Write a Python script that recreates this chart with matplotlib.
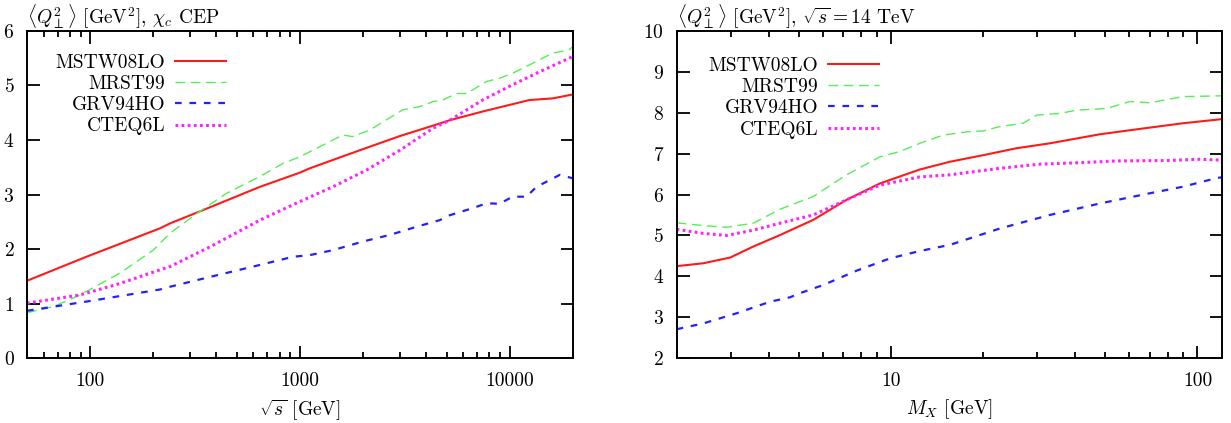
import numpy as np
import matplotlib
matplotlib.use("Agg")
import matplotlib.pyplot as plt
from matplotlib.ticker import LogLocator, FixedLocator, FuncFormatter, NullFormatter

plt.rcParams['font.family'] = ['cmr10', 'DejaVu Serif']
plt.rcParams['mathtext.fontset'] = 'cm'
plt.rcParams['axes.formatter.use_mathtext'] = True

# ---------------- Left panel: <Q^2> vs sqrt(s) ----------------
left_mstw_x = [50, 96, 215, 240, 333, 644, 998, 1114, 1926, 2990, 4630, 5170, 7420, 12400, 16000, 19800]
left_mstw_y = [1.42, 1.86, 2.38, 2.47, 2.69, 3.14, 3.40, 3.48, 3.81, 4.07, 4.30, 4.36, 4.52, 4.73, 4.76, 4.83]

left_mrst_x = [50, 66.7, 89.4, 138.6, 199.7, 240, 333, 446, 644, 830, 998, 1600, 1780, 2150, 3085, 3720,
               4290, 4780, 5580, 6220, 7750, 8940, 10300, 12800, 16000, 19200, 19800]
left_mrst_y = [0.835, 0.945, 1.16, 1.56, 1.98, 2.29, 2.69, 3.02, 3.33, 3.57, 3.69, 4.09, 4.06, 4.18, 4.55, 4.61,
               4.70, 4.73, 4.85, 4.85, 5.07, 5.13, 5.22, 5.40, 5.59, 5.65, 5.70]

left_grv_x = [50, 96.2, 215, 240, 372, 644, 927, 1114, 1433, 2000, 2680, 3600, 4630, 5170, 6650, 7760,
              8940, 10300, 12000, 13400, 17300, 19800]
left_grv_y = [0.87, 1.04, 1.26, 1.31, 1.49, 1.71, 1.86, 1.89, 1.98, 2.14, 2.26, 2.41, 2.53, 2.62, 2.75, 2.84,
              2.83, 2.96, 2.96, 3.14, 3.36, 3.30]

left_cteq_x = [50, 89.4, 138.6, 215, 240, 372, 644, 998, 1433, 2080, 2990, 4290, 5170, 7420, 10300, 13900, 19800]
left_cteq_y = [1.01, 1.16, 1.37, 1.62, 1.68, 2.04, 2.53, 2.87, 3.14, 3.45, 3.81, 4.21, 4.36, 4.73, 5.01, 5.25, 5.52]

# ---------------- Right panel: <Q^2> vs M_X ----------------
right_mstw_x = [2.0, 2.44, 2.99, 3.56, 4.35, 5.58, 7.17, 9.21, 12.43, 15.58, 20.0, 25.7, 33.0,
                48.0, 61.7, 89.7, 120]
right_mstw_y = [4.25, 4.32, 4.46, 4.73, 5.01, 5.38, 5.87, 6.27, 6.61, 6.80, 6.96, 7.13, 7.25,
                7.47, 7.58, 7.74, 7.84]

right_mrst_x = [2.0, 2.44, 2.91, 3.56, 4.35, 5.58, 7.17, 9.21, 10.70, 12.43, 14.81, 17.66, 20.0,
                22.68, 27.0, 29.9, 35.6, 40.3, 50.5, 60.2, 69.9, 89.7, 120]
right_mrst_y = [5.31, 5.24, 5.20, 5.30, 5.64, 5.95, 6.48, 6.92, 7.05, 7.25, 7.45, 7.53, 7.55,
                7.66, 7.74, 7.94, 7.98, 8.06, 8.10, 8.27, 8.24, 8.39, 8.41]

right_grv_x = [2.0, 2.44, 3.14, 4.03, 4.69, 5.05, 6.02, 7.73, 9.93, 12.43, 15.58, 22.68, 33.0, 48.0, 69.9,
               89.7, 115.3, 120]
right_grv_y = [2.71, 2.85, 3.10, 3.38, 3.49, 3.59, 3.79, 4.14, 4.44, 4.62, 4.77, 5.17, 5.50, 5.78, 6.03,
               6.19, 6.40, 6.42]

right_cteq_x = [2.0, 2.44, 2.91, 3.56, 4.35, 5.58, 7.17, 9.21, 12.43, 15.58, 22.68, 30.6, 42.4,
                54.5, 79.2, 101.8, 120]
right_cteq_y = [5.15, 5.05, 5.00, 5.13, 5.30, 5.50, 5.87, 6.23, 6.43, 6.48, 6.64, 6.74, 6.78,
                6.82, 6.83, 6.86, 6.84]

labels = ["MSTW08LO", "MRST99", "GRV94HO", "CTEQ6L"]

styles = [
    dict(color='#ff1a1a', lw=1.5, ls='-'),
    dict(color='#55ee55', lw=1.0, ls=(0, (7, 4))),
    dict(color='#2222ff', lw=1.6, ls=(0, (3, 3.5))),
    dict(color='#ff22ff', lw=2.2, ls=(0, (0.9, 1.1))),
]

fig = plt.figure(figsize=(12.31, 4.23), dpi=100)
axL = fig.add_axes([27/1231, 1-358.3/423, 546/1231, 327.6/423])
axR = fig.add_axes([676.6/1231, 1-358.3/423, 545.1/1231, 327.6/423])

left_data = [(left_mstw_x, left_mstw_y), (left_mrst_x, left_mrst_y),
             (left_grv_x, left_grv_y), (left_cteq_x, left_cteq_y)]
right_data = [(right_mstw_x, right_mstw_y), (right_mrst_x, right_mrst_y),
              (right_grv_x, right_grv_y), (right_cteq_x, right_cteq_y)]

for (x, y), st, lab in zip(left_data, styles, labels):
    axL.plot(x, y, label=lab, **st)
for (x, y), st, lab in zip(right_data, styles, labels):
    axR.plot(x, y, label=lab, **st)

fs = 14

def style_axes(ax):
    ax.set_xscale('log')
    for sp in ax.spines.values():
        sp.set_linewidth(1.4)
    ax.tick_params(which='both', direction='in', top=True, right=True, width=1.3, labelsize=fs)
    ax.tick_params(which='major', length=9)
    ax.tick_params(axis='y', which='major', pad=9)
    ax.tick_params(axis='x', which='major', pad=10)
    ax.tick_params(which='minor', length=4.5)
    ax.xaxis.set_major_formatter(FuncFormatter(lambda v, p: '%d' % round(v)))
    ax.xaxis.set_minor_formatter(NullFormatter())
    ax.xaxis.set_minor_locator(LogLocator(base=10, subs=np.arange(2, 10), numticks=20))

style_axes(axL)
axL.set_xlim(50, 20000)
axL.set_ylim(0, 6)
axL.xaxis.set_major_locator(FixedLocator([100, 1000, 10000]))
axL.set_yticks(np.arange(0, 7, 1))
axL.set_xlabel(r'$\sqrt{s}$ [GeV]', fontsize=fs, labelpad=5)
axL.set_title(r'$\langle Q_\perp^2\rangle$ [GeV$^2$], $\chi_c$ CEP', loc='left', fontsize=fs, pad=5)

style_axes(axR)
axR.set_xlim(2, 120)
axR.set_ylim(2, 10)
axR.xaxis.set_major_locator(FixedLocator([10, 100]))
axR.set_yticks(np.arange(2, 11, 1))
axR.set_xlabel(r'$M_X$ [GeV]', fontsize=fs, labelpad=5)
axR.set_title(r'$\langle Q_\perp^2\rangle$ [GeV$^2$], $\sqrt{s}=14$ TeV', loc='left', fontsize=fs, pad=5)

for ax, anchor in ((axL, (0.364, 0.930)), (axR, (0.371, 0.920))):
    ax.legend(loc='upper right', bbox_to_anchor=anchor, frameon=False, markerfirst=False,
              fontsize=fs, handlelength=2.6, handletextpad=0.5, labelspacing=0.17,
              borderpad=0, borderaxespad=0)

fig.savefig('out.png', dpi=100)
